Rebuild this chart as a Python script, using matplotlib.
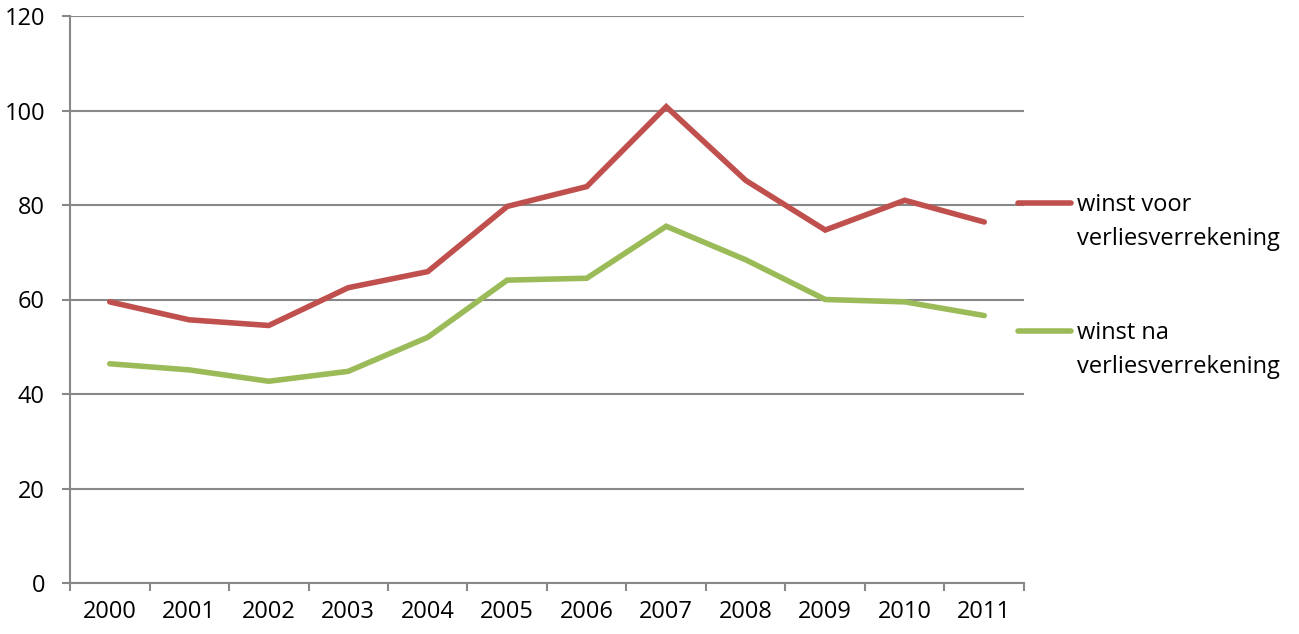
import numpy as np
import matplotlib
matplotlib.use("Agg")
import matplotlib.pyplot as plt
from matplotlib.lines import Line2D

# --------------------------------
# Data
# --------------------------------
years = ["2000", "2001", "2002", "2003", "2004", "2005",
         "2006", "2007", "2008", "2009", "2010", "2011"]
winst_voor = [59.5, 55.7, 54.5, 62.5, 65.9, 79.7, 83.9, 100.8, 85.2, 74.7, 81.0, 76.4]
winst_na = [46.4, 45.1, 42.7, 44.8, 52.0, 64.1, 64.5, 75.5, 68.4, 60.0, 59.5, 56.6]
labels = ["winst voor\nverliesverrekening", "winst na\nverliesverrekening"]
colors = ["#C0504D", "#9BBB59"]

plt.rcParams["font.family"] = ["Open Sans", "DejaVu Sans"]
grid_col = "#888888"
fs = 17

# --------------------------------
# Plot
# --------------------------------
fig = plt.figure(figsize=(12.99, 6.34), dpi=100)
ax = fig.add_axes([70 / 1299, 1 - 583 / 634, (1024 - 70) / 1299, (583 - 16) / 634])

x = np.arange(len(years))
for vals, col in zip([winst_voor, winst_na], colors):
    ax.plot(x, vals, color=col, linewidth=4.0, solid_capstyle="round",
            solid_joinstyle="miter", zorder=3)

ax.set_xlim(-0.5, len(years) - 0.5)
ax.set_ylim(0, 120)
ax.set_yticks(np.arange(0, 121, 20))
ax.yaxis.grid(True, color=grid_col, linewidth=1.5)
ax.set_axisbelow(True)

ax.set_xticks(x)
ax.set_xticklabels(years)
ax.set_xticks(np.arange(-0.5, len(years), 1), minor=True)
ax.tick_params(axis="x", which="major", length=0, pad=12, labelsize=fs)
ax.tick_params(axis="x", which="minor", length=6, width=1.5, color=grid_col)
ax.tick_params(axis="y", length=6, width=1.5, color=grid_col, pad=12, labelsize=fs)

for side in ["top", "right"]:
    ax.spines[side].set_visible(False)
for side in ["left", "bottom"]:
    ax.spines[side].set_color(grid_col)
    ax.spines[side].set_linewidth(1.5)

# --------------------------------
# Legend (Excel style, handle beside first line)
# --------------------------------
for lab, col, ypx in zip(labels, colors, [203, 331]):
    yf = 1 - ypx / 634
    fig.add_artist(Line2D([1018 / 1299, 1071 / 1299], [yf, yf], color=col,
                          linewidth=4.0, solid_capstyle="round",
                          transform=fig.transFigure))
    fig.text(1077 / 1299, yf + 10 / 634, lab, ha="left", va="top",
             fontsize=fs, linespacing=1.55)

fig.savefig("out.png", dpi=100, facecolor="white")
